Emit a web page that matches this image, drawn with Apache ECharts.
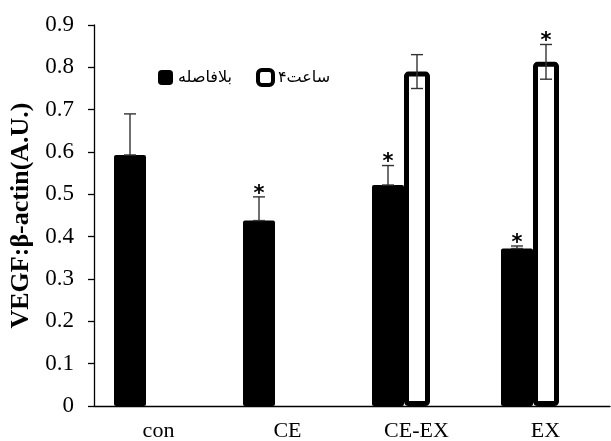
<!DOCTYPE html>
<html>
<head>
<meta charset="utf-8">
<script src="https://cdn.jsdelivr.net/npm/echarts@6/dist/echarts.min.js"></script>
<style>
  html, body { margin: 0; padding: 0; background: #fff; }
  #chart { width: 611px; height: 441px; }
</style>
</head>
<body>
<div id="chart"></div>
<script>
var categories = ['con', 'CE', 'CE-EX', 'EX'];
var yTicks = [0, 0.1, 0.2, 0.3, 0.4, 0.5, 0.6, 0.7, 0.8, 0.9];

var immediateName = 'بلافاصله';
var immediate = [0.593, 0.438, 0.522, 0.372];
var immediateErr = [0.097, 0.056, 0.046, 0.006];
var immediateSig = [false, true, true, true];

var fourHourName = '۴ساعت';
var fourHour = [null, null, 0.79, 0.813];
var fourHourErr = [null, null, 0.04, 0.041];
var fourHourSig = [false, false, false, true];

var serif = '"Liberation Serif", "Times New Roman", serif';

// bar widths inside a group (third one is an empty spacer, like Excel leaves)
var wBlack = 32, wWhite = 26, wSpace = 31;

function errData(vals, errs, both) {
    var out = [];
    for (var i = 0; i < vals.length; i++) {
        if (vals[i] == null) continue;
        out.push([i, both ? vals[i] - errs[i] : vals[i], vals[i] + errs[i]]);
    }
    return out;
}

function starData(vals, errs, sig) {
    var out = [];
    for (var i = 0; i < vals.length; i++) {
        if (sig[i]) out.push([i, vals[i] + errs[i]]);
    }
    return out;
}

// offset of each bar's center from the band center
var total = wBlack + wWhite + wSpace;
var offBlack = -total / 2 + wBlack / 2;
var offWhite = -total / 2 + wBlack + wWhite / 2;

function errSeries(data, offset) {
    return {
        type: 'custom',
        silent: true,
        z: 5,
        data: data,
        encode: { x: 0, y: [1, 2] },
        renderItem: function (params, api) {
            var lo = api.coord([api.value(0), api.value(1)]);
            var hi = api.coord([api.value(0), api.value(2)]);
            var x = lo[0] + offset;
            var cap = 6;
            var st = { stroke: '#333', lineWidth: 1.4 };
            return {
                type: 'group',
                children: [
                    { type: 'line', shape: { x1: x, y1: lo[1], x2: x, y2: hi[1] }, style: st },
                    { type: 'line', shape: { x1: x - cap, y1: hi[1], x2: x + cap, y2: hi[1] }, style: st },
                    { type: 'line', shape: { x1: x - cap, y1: lo[1], x2: x + cap, y2: lo[1] }, style: st }
                ]
            };
        }
    };
}

function starSeries(data, offset) {
    return {
        type: 'custom',
        silent: true,
        z: 6,
        data: data,
        encode: { x: 0, y: 1 },
        renderItem: function (params, api) {
            var p = api.coord([api.value(0), api.value(1)]);
            return {
                type: 'text',
                style: {
                    text: '*', x: p[0] + offset, y: p[1] + 8,
                    textAlign: 'center', textVerticalAlign: 'bottom',
                    font: 'bold 21px "DejaVu Sans"', fill: '#000'
                }
            };
        }
    };
}

var chart = echarts.init(document.getElementById('chart'));
var option = {
    animation: false,
    backgroundColor: '#fff',
    grid: { left: 94, right: 1, top: 25, bottom: 35, outerBoundsMode: 'none' },
    legend: {
        left: 153, top: 63,
        itemWidth: 15, itemHeight: 15, itemGap: 24,
        textStyle: { fontFamily: '"DejaVu Sans"', fontSize: 16, color: '#000' },
        data: [
            { name: immediateName, icon: 'roundRect', itemStyle: { color: '#000', borderWidth: 0 } },
            { name: fourHourName, icon: 'roundRect', itemStyle: { color: '#fff', borderColor: '#000', borderWidth: 4 } }
        ]
    },
    xAxis: {
        type: 'category',
        data: categories,
        axisLine: { lineStyle: { color: '#000', width: 1.3 } },
        axisTick: { show: false },
        axisLabel: { color: '#000', fontFamily: serif, fontSize: 22, margin: 14 }
    },
    yAxis: {
        type: 'value',
        min: 0, max: 0.9, interval: 0.1,
        name: 'VEGF:β-actin(A.U.)',
        nameLocation: 'middle',
        nameGap: 58,
        nameTextStyle: { color: '#000', fontFamily: serif, fontSize: 26, fontWeight: 'bold' },
        axisLine: { show: true, lineStyle: { color: '#000', width: 1.3 } },
        axisTick: { show: true, inside: false, length: 6, lineStyle: { color: '#000', width: 1.3 } },
        splitLine: { show: false },
        axisLabel: {
            color: '#000', fontFamily: serif, fontSize: 23, margin: 20,
            formatter: function (v) {
                var t = yTicks.filter(function (k) { return Math.abs(k - v) < 1e-6; })[0];
                return t === 0 ? '0' : String(t);
            }
        }
    },
    series: [
        {
            name: immediateName, type: 'bar', data: immediate,
            barWidth: wBlack, barGap: '0%', barCategoryGap: '0%',
            itemStyle: { color: '#000', borderRadius: 2 }
        },
        {
            name: fourHourName, type: 'bar', data: fourHour,
            barWidth: wWhite, barGap: '0%',
            itemStyle: { color: '#fff', borderColor: '#000', borderWidth: 5, borderRadius: 2 }
        },
        {
            name: 'spacer', type: 'bar', data: categories.map(function () { return null; }),
            barWidth: wSpace, barGap: '0%'
        },
        errSeries(errData(immediate, immediateErr, false), offBlack),
        errSeries(errData(fourHour, fourHourErr, true), offWhite),
        starSeries(starData(immediate, immediateErr, immediateSig), offBlack),
        starSeries(starData(fourHour, fourHourErr, fourHourSig), offWhite)
    ]
};
chart.setOption(option);
window.onresize = chart.resize;
</script>
</body>
</html>
